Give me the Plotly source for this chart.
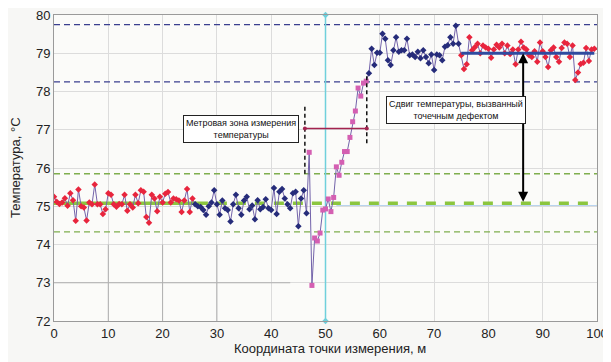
import numpy as np
import plotly.graph_objects as go

# ---------------- data ----------------
step = 0.5
red1_x0 = 0.0
red1 = [75.25, 75.12, 75.06, 75.10, 75.21, 75.01, 75.34, 75.16, 74.62, 75.44,
        75.00, 74.97, 74.63, 75.10, 75.05, 75.57, 75.05, 75.05, 74.80, 74.92,
        75.34, 75.30, 75.05, 74.99, 75.06, 75.05, 75.30, 74.88, 75.05, 74.97,
        75.30, 75.08, 75.42, 75.38, 74.72, 74.57, 75.30, 75.20, 74.87, 75.25,
        75.10, 75.33, 75.37, 75.10, 75.20, 75.18, 75.15, 74.85, 75.15, 75.45,
        74.85, 75.20]
blue1_x0 = 26.0
blue1 = [75.05, 75.00, 74.98, 74.90, 74.78, 75.00, 75.10, 75.42, 75.05, 74.78,
         75.15, 74.95, 74.90, 74.60, 75.05, 75.30, 74.95, 74.78, 75.15, 75.25,
         74.92, 75.02, 74.66, 75.16, 74.92, 74.98, 75.18, 74.95, 74.90, 75.48,
         74.80, 75.38, 75.45, 75.20, 75.05, 74.95, 75.34, 75.38, 74.48, 75.20,
         75.42, 74.82]
pink_x0 = 47.0
pink = [76.41, 72.93, 74.17, 74.09, 74.30, 74.90, 74.93, 75.19, 74.86, 75.23,
        76.03, 75.81, 76.15, 76.43, 76.43, 76.80, 77.21, 77.49, 78.09, 77.88,
        78.22, 78.27]
blue2_x0 = 58.0
blue2 = [78.48, 79.12, 78.69, 79.01, 79.01, 79.51, 79.38, 78.82, 78.69, 79.08,
         79.42, 79.04, 79.08, 79.08, 79.38, 78.95, 78.97, 78.90, 79.04, 78.87,
         79.08, 78.90, 78.74, 78.97, 78.56, 78.97, 78.95, 78.82, 79.17, 79.21,
         79.42, 79.25, 79.72, 79.25]
red2_x0 = 75.0
red2 = [78.95, 78.59, 78.71, 79.42, 79.08, 79.16, 79.25, 79.00, 79.20, 79.15,
        79.12, 78.88, 79.10, 79.22, 79.15, 79.25, 79.00, 79.20, 78.98, 79.10,
        78.71, 79.10, 79.30, 79.15, 79.10, 78.95, 78.90, 79.05, 78.78, 79.28,
        79.05, 78.90, 78.64, 79.08, 79.15, 78.90, 78.78, 79.14, 79.28, 79.25,
        78.90, 79.20, 78.30, 78.50, 78.72, 78.75, 79.14, 78.80, 79.10, 79.12]

# reference levels
upper_hi, upper_lo = 79.75, 78.25       # navy dashed
lower_hi, lower_lo = 75.85, 74.33       # green dashed
base_level = 75.08                      # thick green
shift_level = 79.0                      # thick blue
defect_x = 50.0

x_ticks = [0, 10, 20, 30, 40, 50, 60, 70, 80, 90, 100]
y_ticks = [72, 73, 74, 75, 76, 77, 78, 79, 80]
x_title = "Координата точки измерения, м"
y_title = "Температура, °С"

def xs(x0, vals):
    return list(x0 + step * np.arange(len(vals)))

segments = [
    (xs(red1_x0, red1), red1, "#e8253d", "diamond", 5),
    (xs(blue1_x0, blue1), blue1, "#262c7a", "diamond", 5),
    (xs(pink_x0, pink), pink, "#d45fb2", "square", 5),
    (xs(blue2_x0, blue2), blue2, "#262c7a", "diamond", 5),
    (xs(red2_x0, red2), red2, "#e8253d", "diamond", 5),
]

fig = go.Figure()

def hline(y, x0, x1, color, width, dash="solid"):
    fig.add_trace(go.Scatter(x=[x0, x1], y=[y, y], mode="lines",
                             line=dict(color=color, width=width, dash=dash),
                             hoverinfo="skip", showlegend=False))

def vline(x, y0, y1, color, width, dash="solid"):
    fig.add_trace(go.Scatter(x=[x, x], y=[y0, y1], mode="lines",
                             line=dict(color=color, width=width, dash=dash),
                             hoverinfo="skip", showlegend=False))

# dark grid remnants lower-left
for gx in [10, 20, 30]:
    vline(gx, 72, 74, "#b0b0b0", 1)
hline(73, 0, 43.5, "#b0b0b0", 1)

# reference lines
hline(upper_hi, 0, 100, "#3a3f8f", 1.3, "6px,4px")
hline(upper_lo, 0, 100, "#3a3f8f", 1.3, "6px,4px")
hline(lower_hi, 0, 100, "#7fae4d", 1.3, "6px,4px")
hline(lower_lo, 0, 100, "#7fae4d", 1.3, "6px,4px")
hline(75.02, 52, 100, "#b9d4ee", 1)
hline(base_level, 0, 26.5, "#8cc63f", 3.5)
hline(base_level, 26.5, 100, "#8cc63f", 3.5, "10px,9px")

# vertical cyan line at defect
fig.add_trace(go.Scatter(x=[defect_x, defect_x], y=[72, 80], mode="lines+markers",
                         line=dict(color="#6fd0dc", width=1.5),
                         marker=dict(color="#6fd0dc", size=5, symbol="diamond"),
                         hoverinfo="skip", showlegend=False, cliponaxis=False))

# connecting data line
all_x, all_y = [], []
for sx, sy, *_ in segments:
    all_x += sx
    all_y += sy
fig.add_trace(go.Scatter(x=all_x, y=all_y, mode="lines",
                         line=dict(color="#7363aa", width=1),
                         hoverinfo="skip", showlegend=False))
for sx, sy, col, sym, sz in segments:
    fig.add_trace(go.Scatter(x=sx, y=sy, mode="markers",
                             marker=dict(color=col, symbol=sym, size=sz, line=dict(width=0)),
                             showlegend=False))

# thick blue shifted level
hline(shift_level, 75, 99.5, "#2f4b9f", 3)

# measurement zone markers
vline(46.2, 75.85, 77.65, "#111111", 1.5, "4px,3px")
vline(57.6, 76.65, 78.48, "#111111", 1.5, "4px,3px")
fig.add_trace(go.Scatter(x=[46.2, 57.6], y=[77.03, 77.03], mode="lines+markers",
                         line=dict(color="#a3234f", width=1.5),
                         marker=dict(color="#a3234f", size=4, symbol="circle"),
                         hoverinfo="skip", showlegend=False))

# shift arrow
fig.add_annotation(x=86.4, y=shift_level, ax=86.4, ay=base_level,
                   xref="x", yref="y", axref="x", ayref="y",
                   showarrow=True, arrowhead=2, arrowside="end+start",
                   arrowsize=1, arrowwidth=2, arrowcolor="#000000", text="")

box_font = dict(family="Arial, Liberation Sans, sans-serif", size=9, color="#111111")
fig.add_annotation(x=34.4, y=77.03, xref="x", yref="y", showarrow=False,
                   text="Метровая зона измерения<br>температуры", font=box_font,
                   bgcolor="#ffffff", bordercolor="#222222", borderwidth=1, borderpad=2)
fig.add_annotation(x=74.0, y=77.52, xref="x", yref="y", showarrow=False,
                   text="Сдвиг температуры, вызванный<br>точечным дефектом", font=box_font,
                   bgcolor="#ffffff", bordercolor="#222222", borderwidth=1, borderpad=2)

# axis titles as annotations (precise placement)
title_font = dict(family="Arial, Liberation Sans, sans-serif", size=13, color="#222222")
fig.add_annotation(x=0.5, y=0, xref="paper", yref="paper", yanchor="middle",
                   yshift=-27, xshift=4, showarrow=False, text=x_title, font=title_font)
fig.add_annotation(x=0, y=0.5, xref="paper", yref="paper", xanchor="center",
                   xshift=-39, showarrow=False, text=y_title, textangle=-90, font=title_font)

fig.update_layout(
    width=603, height=354,
    margin=dict(l=46, r=14, t=7, b=41, autoexpand=False),
    paper_bgcolor="#f7f7f5", plot_bgcolor="#fbfbf9",
    font=dict(family="Arial, Liberation Sans, sans-serif", size=13, color="#222222"),
    showlegend=False,
)
fig.update_xaxes(range=[0, 100], tickvals=x_ticks, ticks="", showgrid=True,
                 gridcolor="#dcdcdc", gridwidth=1, zeroline=False, automargin=False,
                 showline=True, linecolor="#9a9a9a", mirror=True, tickfont=dict(size=13),
                 ticklabeloverflow="allow")
fig.update_yaxes(range=[72, 80], tickvals=y_ticks, ticks="", showgrid=True,
                 gridcolor="#dcdcdc", gridwidth=1, zeroline=False, automargin=False,
                 showline=True, linecolor="#9a9a9a", mirror=True, tickfont=dict(size=13),
                 ticklabeloverflow="allow")

fig.write_html("out.html")
